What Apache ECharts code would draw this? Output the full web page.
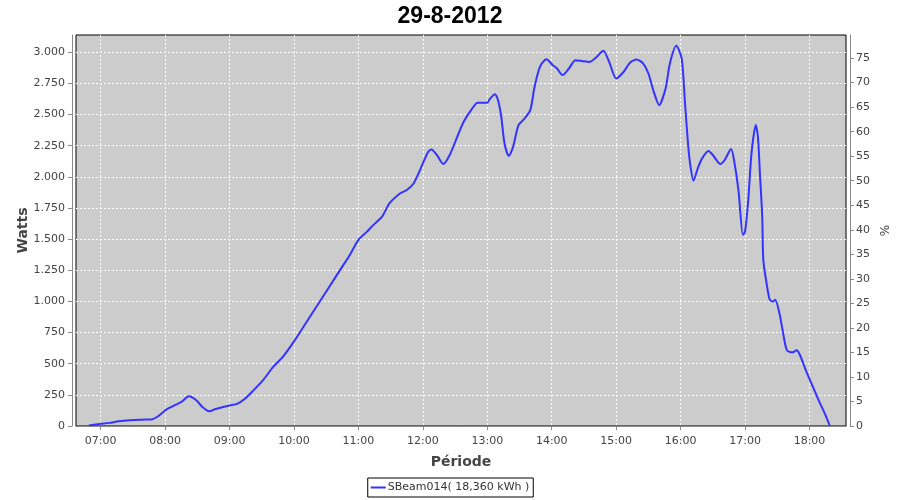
<!DOCTYPE html>
<html>
<head>
<meta charset="utf-8">
<script src="https://cdn.jsdelivr.net/npm/echarts@6/dist/echarts.min.js"></script>
<style>html,body{margin:0;padding:0;background:#fff;}#c{width:900px;height:500px;}</style>
</head>
<body>
<div id="c"></div>
<script>
const titleText = '29-8-2012';
const seriesName = 'SBeam014( 18,360 kWh )';
const times = ['06:49','07:00','07:08','07:17','07:27','07:39','07:48','07:52','07:58','08:02','08:10','08:16','08:22','08:29','08:35','08:41','08:47','08:54','09:00','09:07','09:14','09:22','09:31','09:41','09:50','10:00','10:09','10:18','10:27','10:37','10:46','10:52','11:00','11:08','11:14','11:22','11:29','11:39','11:45','11:51','11:56','12:00','12:05','12:08','12:13','12:19','12:25','12:32','12:38','12:46','12:51','13:00','13:02','13:07','13:10','13:13','13:16','13:20','13:24','13:29','13:34','13:40','13:44','13:49','13:55','14:01','14:05','14:10','14:16','14:22','14:28','14:35','14:41','14:48','14:54','15:00','15:07','15:13','15:19','15:25','15:30','15:35','15:40','15:46','15:50','15:56','16:01','16:04','16:07','16:09','16:12','16:16','16:20','16:26','16:30','16:37','16:41','16:47','16:50','16:54','16:58','17:00','17:03','17:06','17:10','17:12','17:14','17:16','17:17','17:20','17:23','17:26','17:28','17:32','17:36','17:39','17:44','17:48','17:51','17:57','18:03','18:09','18:14','18:19'];
const watts = [5,17,25,38,46,51,55,70,110,137,171,198,238,206,150,118,137,153,165,177,217,284,366,478,559,679,799,919,1039,1173,1293,1373,1494,1560,1614,1680,1788,1868,1894,1942,2028,2108,2201,2220,2175,2103,2175,2321,2442,2549,2594,2594,2621,2663,2615,2482,2268,2167,2241,2415,2461,2535,2722,2883,2944,2896,2869,2816,2869,2936,2930,2922,2955,3011,2910,2789,2843,2917,2941,2910,2829,2682,2575,2709,2910,3051,2950,2602,2255,2095,1969,2068,2148,2207,2175,2103,2135,2223,2121,1881,1534,1560,1814,2188,2415,2321,2001,1680,1333,1147,1013,1000,1013,906,719,607,591,607,572,438,318,198,105,0];
const xMinTime = '06:37';
const xMaxTime = '18:34';
const wattsMax = 3138;
const wattsStep = 250;
const pctMax = 79.7;
const pctStep = 5;

function ts(hm){const p=hm.split(':');return new Date(2012,7,29,+p[0],+p[1]).getTime();}
function pad(n){return (n<10?'0':'')+n;}
const data = times.map((t,i)=>[ts(t), watts[i]]);

const labelFont = {fontFamily:'DejaVu Sans', fontSize:11, color:'#444'};
const gridLine = {show:true,showMinLine:false,showMaxLine:false,lineStyle:{color:'#fff',type:[2,2],width:1}};
const chart = echarts.init(document.getElementById('c'), null, {renderer:'canvas'});
chart.setOption({
  animation:false,
  backgroundColor:'#fff',
  title:{text:titleText,left:'center',top:0,textStyle:{fontFamily:'Liberation Sans',fontWeight:'bold',fontSize:23,color:'#000'}},
  grid:{left:76,right:54,top:35,bottom:74,show:true,backgroundColor:'#cccccc',borderColor:'#000',borderWidth:1},
  legend:{bottom:3,left:'center',data:[seriesName],icon:'rect',itemWidth:15,itemHeight:2,itemGap:4,
    borderColor:'#000',borderWidth:1,padding:[4,4,4,3],backgroundColor:'#fff',
    textStyle:{fontFamily:'DejaVu Sans',fontSize:11,color:'#333',padding:[0,0,0,-3]}},
  xAxis:{type:'time',min:ts(xMinTime),max:ts(xMaxTime),minInterval:3600000,maxInterval:3600000,offset:4,
    name:'Période',nameLocation:'middle',nameGap:25,nameMoveOverlap:false,nameTextStyle:{fontFamily:'DejaVu Sans',fontSize:14,fontWeight:'bold',color:'#444'},
    axisLine:{show:true,lineStyle:{color:'#888'}},axisTick:{show:true,length:4,lineStyle:{color:'#888'}},
    axisLabel:Object.assign({margin:6,showMinLabel:false,showMaxLabel:false,hideOverlap:false,formatter:function(v){const d=new Date(v);return pad(d.getHours())+':'+pad(d.getMinutes());}},labelFont),
    splitLine:gridLine},
  yAxis:[
    {type:'value',min:0,max:wattsMax,interval:wattsStep,offset:4,position:'left',
      name:'Watts',nameLocation:'middle',nameGap:42,nameMoveOverlap:false,nameRotate:90,nameTextStyle:{fontFamily:'DejaVu Sans',fontSize:14,fontWeight:'bold',color:'#444'},
      axisLine:{show:true,lineStyle:{color:'#888'}},axisTick:{show:true,length:4,lineStyle:{color:'#888'}},
      axisLabel:Object.assign({margin:7,showMaxLabel:false,formatter:function(v){return v>=1000?Math.floor(v/1000)+'.'+String(v%1000).padStart(3,'0'):String(v);}},labelFont),
      splitLine:gridLine},
    {type:'value',min:0,max:pctMax,interval:pctStep,offset:4,position:'right',
      name:'%',nameLocation:'middle',nameGap:30,nameMoveOverlap:false,nameRotate:90,nameTextStyle:{fontFamily:'DejaVu Sans',fontSize:12,color:'#444'},
      axisLine:{show:true,lineStyle:{color:'#888'}},axisTick:{show:true,length:4,lineStyle:{color:'#888'}},
      axisLabel:Object.assign({margin:6,showMaxLabel:false},labelFont),
      splitLine:{show:false}}
  ],
  series:[{name:seriesName,type:'line',data:data,yAxisIndex:0,showSymbol:false,smooth:0.25,
    lineStyle:{color:'#3333ff',width:2},itemStyle:{color:'#3333ff'}}]
});
</script>
</body>
</html>
